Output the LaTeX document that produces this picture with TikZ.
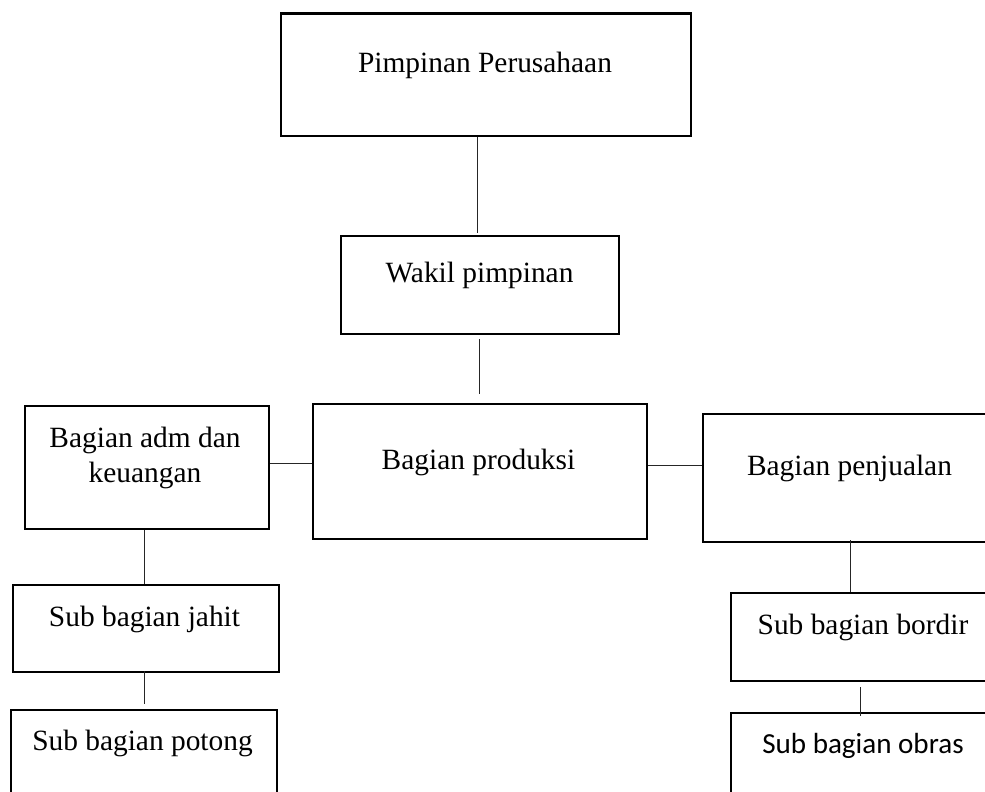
\documentclass[tikz,border=0pt]{standalone}
\usepackage{fontspec}
\setmainfont{Liberation Serif}
\newfontfamily\calib{Carlito}
\begin{document}
\begin{tikzpicture}[x=1pt,y=-1pt,
  box/.style={draw=black, line width=2.4pt, rectangle, inner sep=0pt, anchor=north west},
  conn/.style={draw=black!85, line width=1.1pt},
  lbl/.style={anchor=base, inner sep=0pt, font=\fontsize{29.4}{35}\selectfont, align=center}]
\useasboundingbox (0,0) rectangle (985,792);
\clip (0,0) rectangle (985,792);
\fill[white] (0,0) rectangle (985,792);
% boxes
\node[box, minimum width=410pt, minimum height=122pt] (pimp) at (279.5,12.5) {};
\node[box, minimum width=278pt, minimum height=98pt] (wakil) at (339.5,234.5) {};
\node[box, minimum width=334pt, minimum height=135pt] (prod) at (311.5,402.5) {};
\node[box, minimum width=244pt, minimum height=123pt] (adm) at (23.5,404.5) {};
\node[box, minimum width=299pt, minimum height=128pt] (penj) at (701.5,412.5) {};
\node[box, minimum width=266pt, minimum height=87pt] (jahit) at (11.5,583.5) {};
\node[box, minimum width=266.5pt, minimum height=110pt] (potong) at (9.5,708.5) {};
\node[box, minimum width=271pt, minimum height=88pt] (bordir) at (729.5,591.5) {};
\node[box, minimum width=271pt, minimum height=110pt] (obras) at (729.5,711.5) {};
% texts
\node[lbl] (tpimp) at (485,73) {Pimpinan Perusahaan};
\node[lbl] (twakil) at (479.5,282) {Wakil pimpinan};
\node[lbl] (tprod) at (478.5,469) {Bagian produksi};
\node[lbl] (tadm1) at (145,447) {Bagian adm dan};
\node[lbl] (tadm2) at (145,482) {keuangan};
\node[lbl] (tjahit) at (144.5,626) {Sub bagian jahit};
\node[lbl] (tpotong) at (142.5,750) {Sub bagian potong};
\node[lbl] (tpenj) at (849.5,475) {Bagian penjualan};
\node[lbl] (tbordir) at (863,634) {Sub bagian bordir};
\node[lbl, font=\calib\fontsize{29.1}{35}\selectfont] (tobras) at (863,753) {Sub bagian obras};
% connectors
\draw[conn, shorten >=1.5pt] ([xshift=-8.5pt]pimp.south) -- ([xshift=-2.5pt]wakil.north);
\draw[conn, shorten <=4.5pt, shorten >=8.5pt] ([xshift=-0.5pt]wakil.south) -- ([xshift=-0.5pt]prod.north);
\draw[conn] ([yshift=4pt]adm.east) -- ([yshift=8pt]prod.west);
\draw[conn] ([yshift=6pt]prod.east) -- ([yshift=12.5pt]penj.west);
\draw[conn] ([xshift=-2.5pt]adm.south) -- ([xshift=-1.5pt]jahit.north);
\draw[conn, shorten <=-1.5pt, shorten >=4.5pt] ([xshift=-1.5pt]jahit.south) -- ([xshift=0.25pt]potong.north);
\draw[conn, shorten <=-2.5pt] ([xshift=-2pt]penj.south) -- ([xshift=-16pt]bordir.north);
\draw[conn, shorten <=5.5pt, shorten >=-4.5pt] ([xshift=-6pt]bordir.south) -- ([xshift=-6pt]obras.north);
\end{tikzpicture}
\end{document}
